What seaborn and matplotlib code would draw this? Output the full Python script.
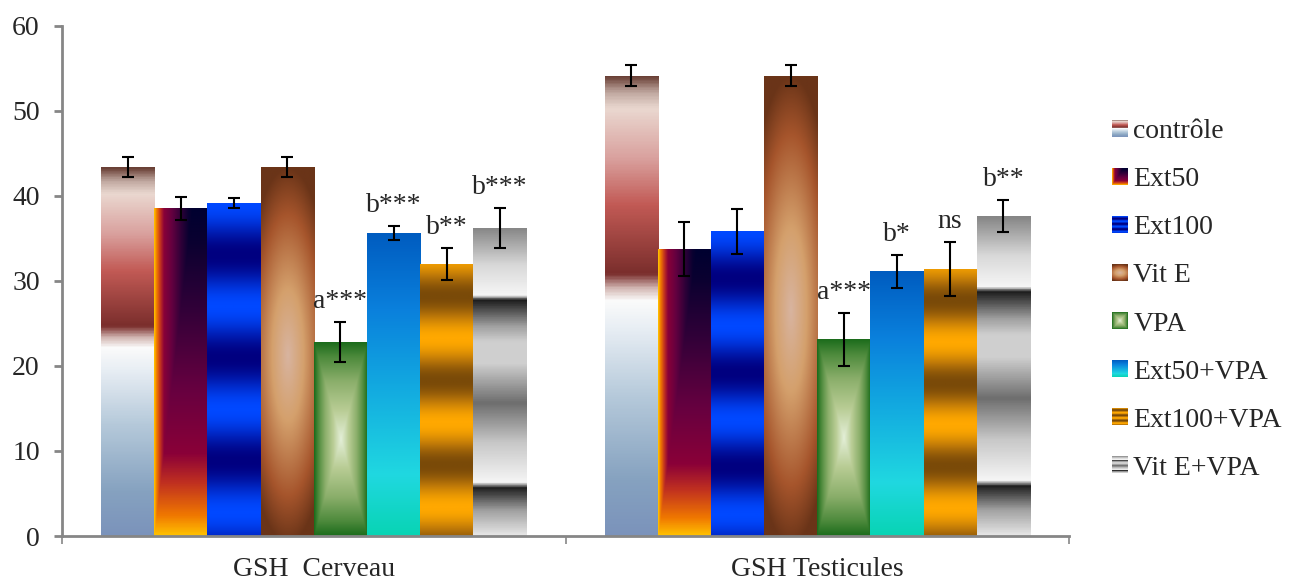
import numpy as np
import pandas as pd
import matplotlib
matplotlib.use("Agg")
import matplotlib.pyplot as plt
import seaborn as sns
from matplotlib.colors import LinearSegmentedColormap
from matplotlib.image import BboxImage
from matplotlib.transforms import Bbox, TransformedBbox
from matplotlib.legend_handler import HandlerPatch
from matplotlib.patches import Patch
from matplotlib.ticker import FixedLocator

# data
groups = ["GSH  Cerveau", "GSH Testicules"]
treatments = ["contrôle", "Ext50", "Ext100", "Vit E", "VPA",
              "Ext50+VPA", "Ext100+VPA", "Vit E+VPA"]
cerveau_mean = [43.35, 38.5, 39.1, 43.35, 22.8, 35.6, 32.0, 36.2]
cerveau_err = [1.2, 1.4, 0.6, 1.2, 2.35, 0.85, 1.9, 2.4]
testicules_mean = [54.1, 33.7, 35.8, 54.1, 23.1, 31.1, 31.4, 37.6]
testicules_err = [1.2, 3.2, 2.6, 1.2, 3.1, 1.95, 3.2, 1.85]
cerveau_labels = ["", "", "", "", "a***", "b***", "b**", "b***"]
testicules_labels = ["", "", "", "", "a***", "b*", "ns", "b**"]

# flat colours (used under the gradient fills)
base_colors = ["#c25a55", "#660040", "#0030c0", "#c08050", "#5a9a48",
               "#10a8e0", "#d08a10", "#a8a8a8"]

FS = 20


def cmap(stops):
    return LinearSegmentedColormap.from_list("g", stops)


# gradient "textures" similar to the office-style fills
def fill_image(kind, nu=64, nv=400):
    u = np.linspace(0, 1, nu)[None, :]
    v = np.linspace(1, 0, nv)[:, None]
    U = np.broadcast_to(u, (nv, nu))
    V = np.broadcast_to(v, (nv, nu))
    if kind == 0:
        t = V
        cm = cmap([(0, "#7b93bb"), (0.12, "#86a2c0"), (0.3, "#b5c9da"),
                   (0.45, "#e8eef4"), (0.51, "#fbfbfb"), (0.535, "#d8c0bc"),
                   (0.57, "#7a2e2c"), (0.72, "#c25a55"), (0.82, "#d9a09d"),
                   (0.93, "#ead8d0"), (0.965, "#c0a8a0"), (1.0, "#6a4036")])
    elif kind == 1:
        t = np.minimum(1.4 * U, V)
        cm = cmap([(0, "#ffc000"), (0.06, "#f07800"), (0.16, "#c03020"),
                   (0.25, "#8a0038"), (0.45, "#660040"), (0.7, "#300038"),
                   (0.9, "#0a0030"), (1, "#000030")])
    elif kind == 2:
        t = 0.5 + 0.5 * np.cos(2 * np.pi * (1 - V) / 0.31)
        cm = cmap([(0, "#000080"), (1, "#0048ff")])
    elif kind == 3:
        t = np.clip(np.sqrt(((U - 0.5) * 0.6) ** 2 + (V - 0.49) ** 2) / 0.51, 0, 1)
        cm = cmap([(0, "#d8b4a0"), (0.35, "#d4a06c"), (0.75, "#a6552c"),
                   (1, "#6a3418")])
    elif kind == 4:
        t = np.maximum(np.abs(U - 0.5) * 2, np.abs(V - 0.5) * 2)
        cm = cmap([(0, "#e4efd8"), (0.3, "#b8cc94"), (0.6, "#8aae6a"),
                   (0.85, "#4d8a3c"), (1, "#1c6c1c")])
    elif kind == 5:
        t = V
        cm = cmap([(0, "#08d4b4"), (0.2, "#20d8e0"), (0.5, "#12a8e0"),
                   (0.75, "#0a80dc"), (1, "#005cc0")])
    elif kind == 6:
        t = 0.5 + 0.5 * np.cos(2 * np.pi * (V - 0.88) / 0.31)
        cm = cmap([(0, "#ffa800"), (0.5, "#c07a08"), (1, "#7a4a08")])
    else:
        t = V
        cm = cmap([(0, "#e6e6e6"), (0.08, "#a0a0a0"), (0.155, "#1e1e1e"),
                   (0.17, "#f6f6f6"), (0.3, "#c8c8c8"), (0.43, "#6e6e6e"),
                   (0.56, "#d0d0d0"), (0.63, "#cfcfcf"), (0.68, "#a0a0a0"),
                   (0.765, "#1e1e1e"), (0.78, "#f6f6f6"), (0.88, "#d8d8d8"),
                   (1, "#868686")])
    return cm(t)[..., :3]


class HandlerGradient(HandlerPatch):
    def __init__(self, img):
        super().__init__()
        self.img = img

    def create_artists(self, legend, orig_handle, xdescent, ydescent,
                       width, height, fontsize, trans):
        bb = Bbox.from_bounds(-xdescent, -ydescent, width, height)
        im = BboxImage(TransformedBbox(bb, trans), interpolation="bilinear")
        im.set_data(self.img)
        return [im]


sns.set_style("white")
plt.rcParams["font.family"] = ["Liberation Serif", "DejaVu Serif"]

df = pd.DataFrame({
    "group": np.repeat(groups, len(treatments)),
    "treatment": treatments * 2,
    "value": cerveau_mean + testicules_mean,
})

fig = plt.figure(figsize=(12.95, 5.81), dpi=100)
ax = fig.add_axes([62 / 1295, 1 - 536 / 581, (1069 - 62) / 1295, (536 - 25.5) / 581])

sns.barplot(data=df, x="group", y="value", hue="treatment",
            order=groups, hue_order=treatments, palette=base_colors,
            width=0.845, errorbar=None, saturation=1, linewidth=0,
            legend=False, ax=ax)

images = [fill_image(i) for i in range(len(treatments))]
errs = list(zip(cerveau_err, testicules_err))
labs = list(zip(cerveau_labels, testicules_labels))
means = list(zip(cerveau_mean, testicules_mean))

bar_containers = list(ax.containers)
for i, cont in enumerate(bar_containers):
    for j, bar in enumerate(cont):
        x0, w, h = bar.get_x(), bar.get_width(), bar.get_height()
        im = ax.imshow(images[i], extent=(x0, x0 + w, 0, h), aspect="auto",
                       interpolation="bilinear", zorder=bar.get_zorder() + 0.1)
        im.set_clip_path(bar)
        xc = x0 + w / 2
        ax.errorbar(xc, means[i][j], yerr=errs[i][j], fmt="none",
                    ecolor="black", elinewidth=1.5, capsize=4.3,
                    capthick=1.5, zorder=5)
        if labs[i][j]:
            ax.annotate(labs[i][j], (xc, means[i][j] + errs[i][j]),
                        xytext=(0, 10), textcoords="offset points",
                        ha="center", va="baseline", fontsize=FS)

ax.set_xlim(-0.5, 1.5)
ax.set_ylim(0, 60)
ax.set_yticks(range(0, 61, 10))
ax.set_xlabel("")
ax.set_ylabel("")

sns.despine(ax=ax)
for s in ["left", "bottom"]:
    ax.spines[s].set_color("#868686")
    ax.spines[s].set_linewidth(2)

ax.tick_params(axis="y", direction="out", length=6, width=2, color="#868686",
               labelsize=FS, pad=10, left=True)
ax.tick_params(axis="x", which="major", length=0, labelsize=FS, pad=15)
ax.xaxis.set_minor_locator(FixedLocator([-0.5, 0.5, 1.5]))
ax.tick_params(axis="x", which="minor", direction="out", length=6, width=1.2,
               color="#868686", bottom=True)

handles = [Patch(facecolor=c, label=t) for c, t in zip(base_colors, treatments)]
hmap = {h: HandlerGradient(img) for h, img in zip(handles, images)}
ax.legend(handles=handles, handler_map=hmap, loc="center left",
          bbox_to_anchor=(1112 / 1295, 1 - 300 / 581),
          bbox_transform=fig.transFigure, frameon=False, fontsize=FS,
          borderpad=0, borderaxespad=0, labelspacing=0.83,
          handlelength=0.55, handleheight=0.55, handletextpad=0.22)

fig.savefig("out.png", dpi=100)
